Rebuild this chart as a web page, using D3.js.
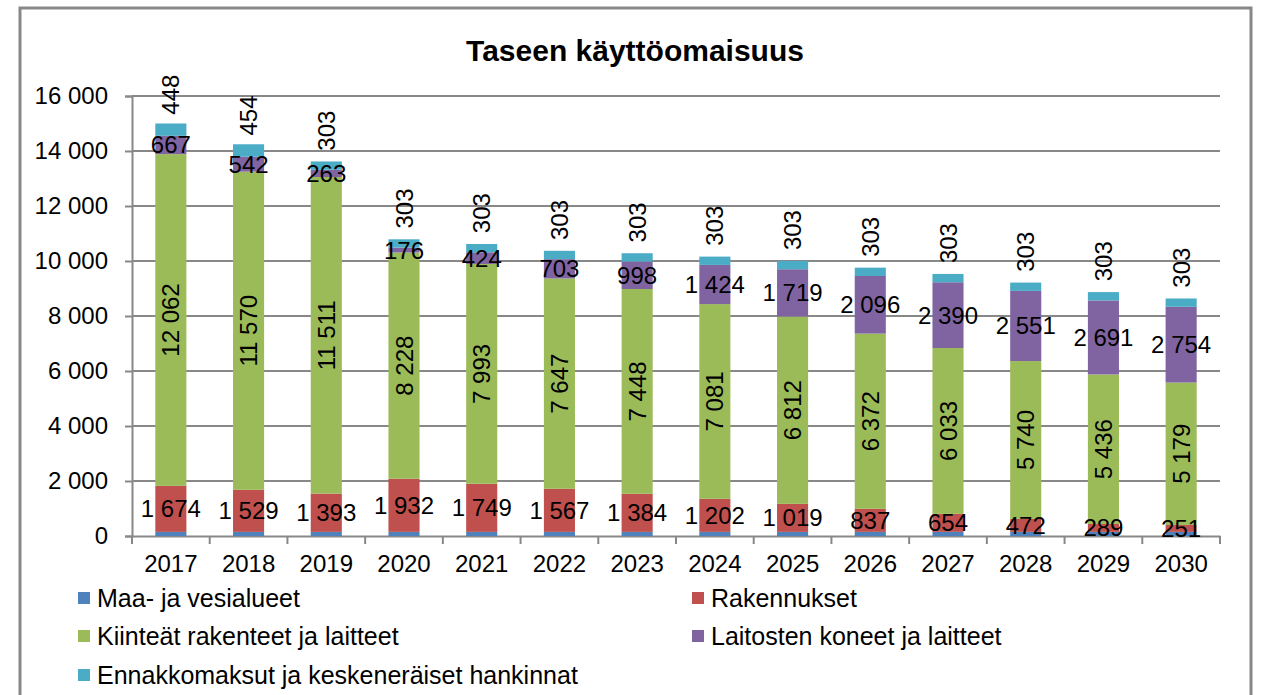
<!DOCTYPE html>
<html>
<head>
<meta charset="utf-8">
<script src="https://cdn.jsdelivr.net/npm/d3@7"></script>
<style>
  body { margin: 0; background: #fff; }
  text { font-family: "Liberation Sans", Arial, sans-serif; fill: #000; }
</style>
</head>
<body>
<div id="chart"></div>
<script>
const years = ['2017','2018','2019','2020','2021','2022','2023','2024','2025','2026','2027','2028','2029','2030'];
const maa = [150,150,150,150,150,150,150,150,150,150,150,150,150,150];
const rakennukset = [1674,1529,1393,1932,1749,1567,1384,1202,1019,837,654,472,289,251];
const kiinteat = [12062,11570,11511,8228,7993,7647,7448,7081,6812,6372,6033,5740,5436,5179];
const laitosten = [667,542,263,176,424,703,998,1424,1719,2096,2390,2551,2691,2754];
const ennakko = [448,454,303,303,303,303,303,303,303,303,303,303,303,303];
const yTicks = [0,2000,4000,6000,8000,10000,12000,14000,16000];

const series = [
  { name: 'Maa- ja vesialueet', values: maa, color: '#4F81BD', label: null },
  { name: 'Rakennukset', values: rakennukset, color: '#C0504D', label: 'h' },
  { name: 'Kiinteät rakenteet ja laitteet', values: kiinteat, color: '#9BBB59', label: 'v' },
  { name: 'Laitosten koneet ja laitteet', values: laitosten, color: '#8064A2', label: 'h' },
  { name: 'Ennakkomaksut ja keskeneräiset hankinnat', values: ennakko, color: '#4BACC6', label: 'top' }
];

const W = 1261, H = 695;
const svg = d3.select('#chart').append('svg').attr('width', W).attr('height', H);

// outer frame
svg.append('rect').attr('x', 20).attr('y', 8).attr('width', 1231).attr('height', 700)
  .attr('fill', 'none').attr('stroke', '#888').attr('stroke-width', 3);

svg.append('text').attr('x', 635).attr('y', 61).attr('text-anchor', 'middle')
  .style('font-size', '30px').style('font-weight', 'bold').text('Taseen käyttöomaisuus');

const x = d3.scaleBand().domain(years).range([132, 1220]).paddingInner(0.6).paddingOuter(0.3);
const y = d3.scaleLinear().domain([0, 16000]).range([536, 96]);
const fmt = v => d3.format(',')(v).replace(/,/g, ' ');

// gridlines
svg.append('g').selectAll('line').data(yTicks.slice(1)).enter().append('line')
  .attr('x1', 132).attr('x2', 1220).attr('y1', d => y(d)).attr('y2', d => y(d))
  .attr('stroke', '#888').attr('stroke-width', 2);

// y axis
const yAxis = svg.append('g').attr('transform', 'translate(132,0)')
  .call(d3.axisLeft(y).tickValues(yTicks).tickSize(7).tickPadding(17).tickFormat(fmt));
yAxis.selectAll('line, path').attr('stroke', '#888').attr('stroke-width', 2);
yAxis.selectAll('text').style('font-size', '24px').style('font-family', '"Liberation Sans", Arial, sans-serif');

// x axis
const xAxis = svg.append('g').attr('transform', 'translate(0,536)')
  .call(d3.axisBottom(x).tickSize(0).tickPadding(19));
xAxis.select('path').attr('stroke', '#888').attr('stroke-width', 2);
xAxis.selectAll('text').style('font-size', '24px').style('font-family', '"Liberation Sans", Arial, sans-serif');
const step = x.step();
xAxis.append('g').selectAll('line').data(d3.range(years.length + 1)).enter().append('line')
  .attr('x1', i => 132 + i * step).attr('x2', i => 132 + i * step)
  .attr('y1', 0).attr('y2', 8).attr('stroke', '#888').attr('stroke-width', 2);

// stack
const table = years.map((yr, i) => {
  const row = { year: yr };
  series.forEach((s, k) => row[k] = s.values[i]);
  return row;
});
const stack = d3.stack().keys(series.map((s, k) => k))(table);

const layers = svg.append('g').selectAll('g').data(stack).enter().append('g')
  .attr('fill', (d, k) => series[k].color);
layers.selectAll('rect').data(d => d).enter().append('rect')
  .attr('x', d => x(d.data.year)).attr('width', x.bandwidth())
  .attr('y', d => y(d[1])).attr('height', d => y(d[0]) - y(d[1]));

// labels
const lab = svg.append('g');
stack.forEach((layer, k) => {
  const s = series[k];
  if (!s.label) return;
  layer.forEach((d, i) => {
    const cx = x(d.data.year) + x.bandwidth() / 2;
    let cy = (y(d[0]) + y(d[1])) / 2;
    const t = lab.append('text').style('font-size', '24px')
      .attr('text-anchor', 'middle').attr('dominant-baseline', 'central')
      .text(fmt(s.values[i]));
    if (s.label === 'h') {
      t.attr('x', cx).attr('y', cy);
    } else {
      if (s.label === 'top') cy -= 35;
      t.attr('transform', 'translate(' + cx + ',' + cy + ') rotate(-90)');
    }
  });
});

// legend
const legendPos = [[78, 598], [692, 598], [78, 636], [692, 636], [78, 675]];
const leg = svg.append('g').selectAll('g').data(series).enter().append('g')
  .attr('transform', (d, i) => 'translate(' + legendPos[i][0] + ',' + legendPos[i][1] + ')');
leg.append('rect').attr('x', 0).attr('y', -6).attr('width', 12).attr('height', 12).attr('fill', d => d.color);
leg.append('text').attr('x', 19).attr('y', 0).attr('dominant-baseline', 'central')
  .style('font-size', '25px').text(d => d.name);
</script>
</body>
</html>
